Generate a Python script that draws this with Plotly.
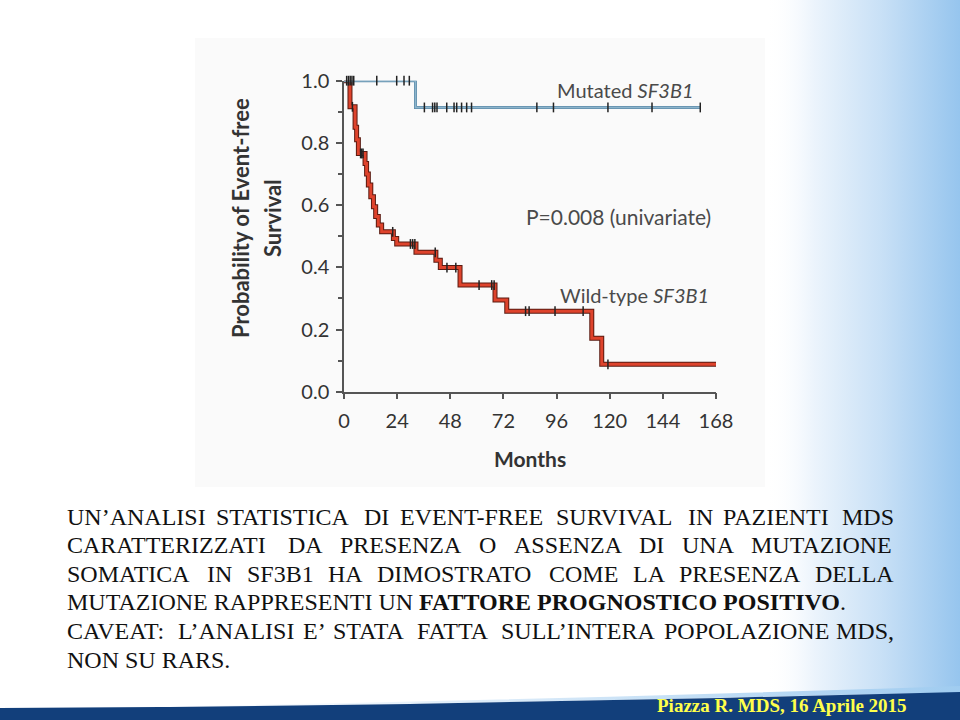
import plotly.graph_objects as go

W, H = 960, 720

# ---------------- data ----------------
# Wild-type SF3B1: step changes (months, survival after the step)
wt_months = [0, 2.7, 5.0, 5.7, 6.5, 9.5, 10.2, 11.0, 12.1, 13.3, 14.3, 15.5, 17.0,
             22.3, 23.8, 32.5, 41.5, 43.5, 52.4, 68.2, 73.5, 111.9, 116.4, 168]
wt_surv = [1.0, 0.916, 0.85, 0.81, 0.766, 0.734, 0.70, 0.665, 0.627, 0.595, 0.563,
           0.536, 0.514, 0.493, 0.475, 0.448, 0.423, 0.399, 0.343, 0.295, 0.259,
           0.172, 0.088, 0.088]
wt_censored = [3.8, 7.5, 8.0, 8.6, 22.0, 30.0, 31.0, 32.0, 41.2, 46.5, 50.5, 61.0,
               66.7, 67.8, 82.0, 83.6, 95.3, 108.0, 119.2]

# Mutated SF3B1
mut_months = [0, 32.3, 161]
mut_surv = [1.0, 0.914, 0.914]
mut_censored = [1.2, 2.0, 2.8, 3.6, 4.4, 14.8, 23.8, 27.1, 29.5, 36.3, 40.0, 41.0,
                42.0, 46.4, 49.7, 50.9, 53.1, 55.4, 57.6, 87.1, 94.6, 119.2, 139.1, 160.9]

x_ticks = [0, 24, 48, 72, 96, 120, 144, 168]
y_ticks = [0.0, 0.2, 0.4, 0.6, 0.8, 1.0]

text_lines = [
    "UN’ANALISI STATISTICA DI EVENT-FREE SURVIVAL IN PAZIENTI MDS",
    "CARATTERIZZATI DA PRESENZA O ASSENZA DI UNA MUTAZIONE",
    "SOMATICA IN SF3B1 HA DIMOSTRATO COME LA PRESENZA DELLA",
    None,
    "CAVEAT: L’ANALISI E’ STATA FATTA SULL’INTERA POPOLAZIONE MDS,",
    "NON SU RARS.",
]
line4_regular = "MUTAZIONE RAPPRESENTI UN "
line4_bold = "FATTORE PROGNOSTICO POSITIVO"
footer_text = "Piazza R. MDS, 16 Aprile 2015"


def step_value(t, xs, ys):
    v = ys[0]
    for xi, yi in zip(xs, ys):
        if xi <= t:
            v = yi
    return v


fig = go.Figure()

# ---------------- background (pixel axes) ----------------
fig.add_trace(go.Scatter(
    x=[765, 960, 960, 765, 765], y=[0, 0, 720, 720, 0], mode="lines",
    line=dict(width=0), fill="toself",
    fillgradient=dict(type="horizontal",
                      colorscale=[[0, "rgba(255,255,255,0)"], [0.25, "rgba(236,244,252,1)"],
                                  [0.6, "rgba(200,224,246,1)"], [1, "rgb(150,197,238)"]]),
    hoverinfo="skip", xaxis="x", yaxis="y"))

xs = [i * 10 for i in range(97)]
navy_top = [708 - 16 * (x / 960) ** 1.6 for x in xs]
strip_top = [nt - 6 * (x / 960) ** 1.2 for x, nt in zip(xs, navy_top)]
fig.add_trace(go.Scatter(
    x=xs + xs[::-1], y=strip_top + navy_top[::-1], mode="lines", line=dict(width=0),
    fill="toself",
    fillgradient=dict(type="horizontal",
                      colorscale=[[0, "rgba(255,255,255,0)"], [0.35, "rgba(240,246,252,1)"],
                                  [1, "rgb(160,204,240)"]]),
    hoverinfo="skip", xaxis="x", yaxis="y"))
fig.add_trace(go.Scatter(
    x=xs + [960, 0], y=navy_top + [720, 720], mode="lines", line=dict(width=0),
    fill="toself", fillcolor="#123f7b", hoverinfo="skip", xaxis="x", yaxis="y"))

# ---------------- Kaplan-Meier curves ----------------
fig.add_trace(go.Scatter(x=wt_months, y=wt_surv, mode="lines", line_shape="hv",
                         line=dict(color="#5a1a10", width=5), cliponaxis=False,
                         hoverinfo="skip", xaxis="x2", yaxis="y2"))
fig.add_trace(go.Scatter(x=wt_months, y=wt_surv, mode="lines", line_shape="hv",
                         line=dict(color="#de432c", width=3), cliponaxis=False,
                         hoverinfo="skip", xaxis="x2", yaxis="y2"))
fig.add_trace(go.Scatter(x=mut_months, y=mut_surv, mode="lines", line_shape="hv",
                         line=dict(color="#5f8dab", width=3), cliponaxis=False,
                         hoverinfo="skip", xaxis="x2", yaxis="y2"))
fig.add_trace(go.Scatter(x=mut_months, y=mut_surv, mode="lines", line_shape="hv",
                         line=dict(color="#8db5cc", width=1.5), cliponaxis=False,
                         hoverinfo="skip", xaxis="x2", yaxis="y2"))
fig.add_trace(go.Scatter(
    x=wt_censored, y=[step_value(t, wt_months, wt_surv) for t in wt_censored],
    mode="markers", marker=dict(symbol="line-ns", size=7, line=dict(width=1.5, color="#222")),
    cliponaxis=False, hoverinfo="skip", xaxis="x2", yaxis="y2"))
fig.add_trace(go.Scatter(
    x=mut_censored, y=[step_value(t, mut_months, mut_surv) for t in mut_censored],
    mode="markers", marker=dict(symbol="line-ns", size=7, line=dict(width=1.5, color="#222")),
    cliponaxis=False, hoverinfo="skip", xaxis="x2", yaxis="y2"))

CH_FONT = "Lato"
tick_font = dict(family=CH_FONT, size=20, color="#333")

fig.update_layout(
    width=W, height=H, autosize=False, margin=dict(l=0, r=0, t=0, b=0, pad=0),
    paper_bgcolor="white", plot_bgcolor="rgba(0,0,0,0)", showlegend=False,
    hovermode=False,
    xaxis=dict(domain=[0, 1], range=[0, 960], visible=False, fixedrange=True,
               automargin=False, showgrid=False, zeroline=False),
    yaxis=dict(domain=[0, 1], range=[720, 0], visible=False, fixedrange=True,
               automargin=False, showgrid=False, zeroline=False),
    xaxis2=dict(domain=[344 / W, 716 / W], range=[0, 168], anchor="y2",
                tickvals=x_ticks, ticks="outside", ticklen=6, tickwidth=1.5,
                tickcolor="#555", showline=True, linecolor="#555", linewidth=1.5,
                showgrid=False, zeroline=False, tickfont=tick_font,
                ticklabelstandoff=5, automargin=False),
    yaxis2=dict(domain=[1 - 391.7 / H, 1 - 80.7 / H], range=[0, 1], anchor="x2",
                tickvals=y_ticks, ticktext=[f"{v:.1f}" for v in y_ticks],
                ticks="outside", ticklen=6, tickwidth=1.5, tickcolor="#555",
                showline=True, linecolor="#555", linewidth=1.5, showgrid=False,
                zeroline=False, tickfont=tick_font, ticklabelstandoff=3,
                automargin=False,
                minor=dict(tickvals=[0.1, 0.3, 0.5, 0.7, 0.9], ticks="outside",
                           ticklen=4, tickwidth=1.5, tickcolor="#555")),
)

fig.add_shape(type="rect", xref="x", yref="y", x0=195, x1=765, y0=38, y1=487,
              fillcolor="#fafafa", line=dict(width=0), layer="below")

ann = []
ann.append(dict(x=240, y=218, text="<b>Probability of Event-free</b>", textangle=-90,
                font=dict(family=CH_FONT, size=22, color="#333")))
ann.append(dict(x=272, y=218, text="<b>Survival</b>", textangle=-90,
                font=dict(family=CH_FONT, size=22, color="#333")))
ann.append(dict(x=530, y=458, text="<b>Months</b>",
                font=dict(family=CH_FONT, size=21, color="#333")))
ann.append(dict(x=695, y=90, xanchor="right", text="Mutated <i>SF3B1</i>",
                font=dict(family=CH_FONT, size=20, color="#4a4a4a")))
ann.append(dict(x=712, y=216, xanchor="right", text="P=0.008 (univariate)",
                font=dict(family=CH_FONT, size=21, color="#4a4a4a")))
ann.append(dict(x=710, y=295, xanchor="right", text="Wild-type <i>SF3B1</i>",
                font=dict(family=CH_FONT, size=20, color="#4a4a4a")))

TW = {"A": 722, "B": 667, "C": 667, "D": 722, "E": 611, "F": 556, "G": 722, "H": 722,
      "I": 333, "J": 389, "K": 722, "L": 611, "M": 889, "N": 722, "O": 722, "P": 556,
      "Q": 722, "R": 667, "S": 556, "T": 611, "U": 722, "V": 722, "W": 944, "X": 722,
      "Y": 722, "Z": 611, "’": 333, "-": 333, ":": 278, ",": 250, ".": 250, "1": 500,
      "3": 500, " ": 250}
FS = 24
LEFT, RIGHT = 66, 893
line_y = [517, 545, 574, 602, 631, 660]
SERIF = "Liberation Serif"
for i, line in enumerate(text_lines):
    if line is None:
        ann.append(dict(x=LEFT, y=line_y[i], xanchor="left",
                        text=line4_regular + "<b>" + line4_bold + "</b>.",
                        font=dict(family=SERIF, size=FS, color="#111")))
        continue
    words = line.split(" ")
    if i == len(text_lines) - 1:
        ann.append(dict(x=LEFT, y=line_y[i], xanchor="left", text=line,
                        font=dict(family=SERIF, size=FS, color="#111")))
        continue
    widths = [sum(TW.get(c, 600) for c in w) * FS / 1000 for w in words]
    gap = (RIGHT - LEFT - sum(widths)) / (len(words) - 1)
    x = LEFT
    for w, wd in zip(words, widths):
        ann.append(dict(x=x, y=line_y[i], xanchor="left", text=w,
                        font=dict(family=SERIF, size=FS, color="#111")))
        x += wd + gap

ann.append(dict(x=908, y=705, xanchor="right", text="<b>" + footer_text + "</b>",
                font=dict(family=SERIF, size=19, color="#ffff4a")))

for a in ann:
    a.setdefault("xref", "x")
    a.setdefault("yref", "y")
    a.setdefault("showarrow", False)
    a.setdefault("yanchor", "middle")
    a.setdefault("borderpad", 0)
fig.update_layout(annotations=ann)

fig.write_html("out.html")
